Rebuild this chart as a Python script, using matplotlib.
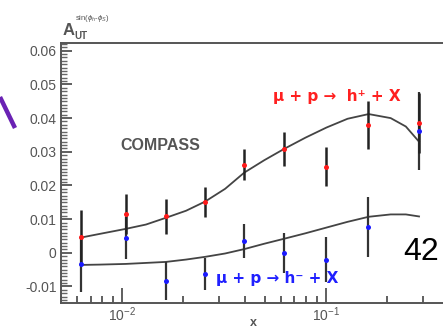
"""COMPASS Sivers asymmetry A_UT vs x, h+ and h- with model curves."""

import matplotlib
matplotlib.use("Agg")
import matplotlib.pyplot as plt
from matplotlib.lines import Line2D
from matplotlib.ticker import LogLocator, MultipleLocator, NullFormatter

plt.rcParams["font.family"] = ["Liberation Sans", "DejaVu Sans"]
plt.rcParams["mathtext.fontset"] = "custom"
plt.rcParams["mathtext.rm"] = "Liberation Sans"
plt.rcParams["mathtext.it"] = "Liberation Sans:italic"

# data points
x_bins = [0.0063, 0.0105, 0.0164, 0.0255, 0.0396, 0.0622, 0.100, 0.161, 0.286]
hplus = [0.0047, 0.0116, 0.0108, 0.0151, 0.0261, 0.0309, 0.0255, 0.0380, 0.0386]
hplus_err = [0.0081, 0.0060, 0.0051, 0.0045, 0.0046, 0.0050, 0.0058, 0.0072, 0.0090]
hminus = [-0.0034, 0.0044, -0.0083, -0.0062, 0.0036, 0.0000, -0.0020, 0.0077, 0.0362]
hminus_err = [0.0082, 0.0062, 0.0056, 0.0047, 0.0051, 0.0060, 0.0067, 0.0090, 0.0116]

# model curves
curve_x = [0.00625, 0.00774, 0.0104, 0.0131, 0.0164, 0.0206, 0.0255, 0.0320, 0.0397,
           0.0498, 0.0625, 0.0793, 0.1005, 0.1275, 0.1618, 0.2075, 0.2463, 0.2858]
curve_plus = [0.0045, 0.0056, 0.0071, 0.0084, 0.0104, 0.0125, 0.0152, 0.0190, 0.0238,
              0.0275, 0.0309, 0.0342, 0.0372, 0.0398, 0.0412, 0.0400, 0.0375, 0.0330]
curve_minus = [-0.0036, -0.0035, -0.0033, -0.0030, -0.0027, -0.0020, -0.0012, -0.0002, 0.0011,
               0.0027, 0.0042, 0.0058, 0.0075, 0.0092, 0.0107, 0.0114, 0.0114, 0.0108]

W, H = 443, 330
fig = plt.figure(figsize=(W / 100, H / 100), dpi=100)
# axes run a little past the right edge of the picture, like the cropped slide
ax = fig.add_axes([60.7 / W, 27 / H, (448.8 - 60.7) / W, 260 / H])

ax.plot(curve_x, curve_plus, color="#444444", lw=1.3, zorder=2)
ax.plot(curve_x, curve_minus, color="#444444", lw=1.3, zorder=2)

ax.errorbar(x_bins, hminus, yerr=hminus_err, fmt="none", ecolor="#333333",
            elinewidth=1.6, capsize=0, zorder=3)
ax.errorbar(x_bins, hplus, yerr=hplus_err, fmt="none", ecolor="#222222",
            elinewidth=1.8, capsize=0, zorder=3)
ax.plot(x_bins, hminus, "o", color="#1a1aff", ms=3.6, mec="none", zorder=4)
ax.plot(x_bins, hplus, "o", color="#ff1a1a", ms=3.6, mec="none", zorder=5)

ax.set_xscale("log")
ax.set_xlim(0.005, 0.4)
ax.set_ylim(-0.0149, 0.0623)

ax.yaxis.set_minor_locator(MultipleLocator(0.001))
ax.set_yticks([-0.01, 0, 0.01, 0.02, 0.03, 0.04, 0.05, 0.06])
ax.set_yticklabels(["-0.01", "0", "0.01", "0.02", "0.03", "0.04", "0.05", "0.06"])
ax.xaxis.set_minor_locator(LogLocator(base=10, subs=range(2, 10), numticks=20))
ax.xaxis.set_minor_formatter(NullFormatter())
ax.set_xticks([0.01, 0.1])
ax.set_xticklabels(["$10^{-2}$", "$10^{-1}$"])

ax.tick_params(axis="both", which="both", direction="in", colors="#444444",
               labelcolor="#555555", labelsize=10, width=1.2)
ax.tick_params(axis="y", which="major", length=8, pad=3)
ax.tick_params(axis="y", which="minor", length=4, width=1.0, color="#666666")
ax.tick_params(axis="x", which="major", length=11, pad=2)
ax.tick_params(axis="x", which="minor", length=5)
for side in ["left", "bottom", "top"]:
    ax.spines[side].set_color("#555555")
    ax.spines[side].set_linewidth(1.4)
ax.spines["right"].set_visible(False)


# texts, placed by figure pixels
def fx(px):
    return px / W


def fy(py):
    return 1 - py / H


fig.text(fx(253), fy(323), "x", color="#555555", fontsize=9, fontweight="bold",
         ha="center", va="center")

fig.text(fx(63), fy(35), "A", color="#555555", fontsize=12, fontweight="bold",
         ha="left", va="baseline")
fig.text(fx(74), fy(39), "UT", color="#555555", fontsize=7, fontweight="bold",
         ha="left", va="baseline")
fig.text(fx(75), fy(20), r"sin($\phi_h$-$\phi_S$)", color="#555555", fontsize=5.5,
         ha="left", va="baseline")

fig.text(fx(160), fy(146), "COMPASS", color="#555555", fontsize=11.5,
         fontweight="bold", ha="center", va="center")
fig.text(fx(337), fy(97), "μ + p →  h⁺ + X", color="#ff2020", fontsize=11,
         fontweight="bold", ha="center", va="center", family=["DejaVu Sans"])
fig.text(fx(277), fy(279), "μ + p → h⁻ + X", color="#2020ff", fontsize=11,
         fontweight="bold", ha="center", va="center", family=["DejaVu Sans"])

fig.text(fx(421), fy(252), "42", color="black", fontsize=23, ha="center", va="center")

fig.add_artist(Line2D([fx(0), fx(15)], [fy(97), fy(128)], color="#6a22b4", lw=3.2,
                      solid_capstyle="butt"))

fig.savefig("out.png", dpi=100)
